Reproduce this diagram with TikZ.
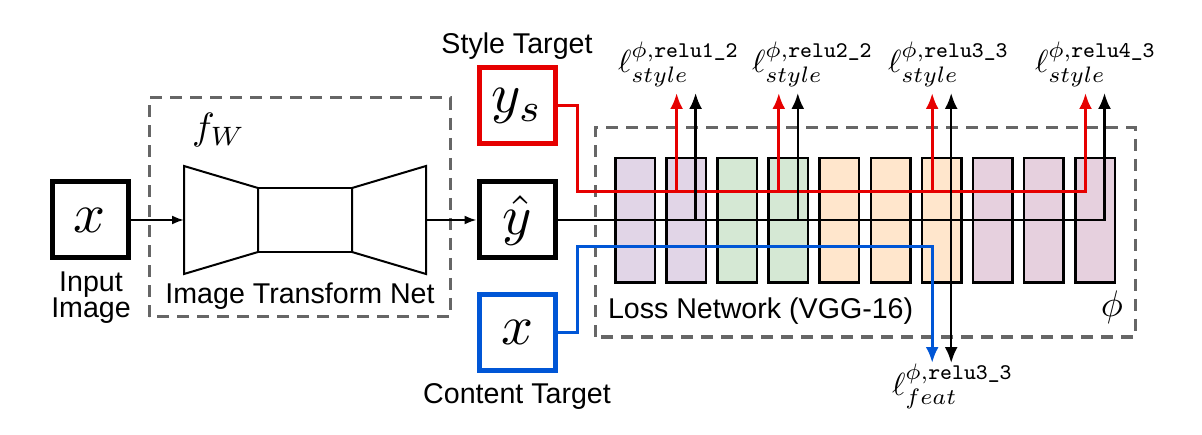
\documentclass[tikz,border=0pt]{standalone}
\usepackage{graphicx}
\usepackage{amsmath}
\usepackage{fontspec}
\setsansfont{Liberation Sans}
\usetikzlibrary{arrows.meta}
\newcommand{\lblfont}{\sffamily\fontsize{28.6}{30}\selectfont}
\newcommand{\mathat}[2]{\scalebox{#1}{$#2$}}
\begin{document}
\begin{tikzpicture}[x=1pt,y=1pt,
  txt/.style={text=black,inner sep=0pt,outer sep=0pt,font=\lblfont},
  losslbl/.style={text=black,inner sep=0pt,outer sep=0pt},
  varbox/.style={draw=#1,line width=5pt,minimum size=76pt,inner sep=0pt,fill=white},
  layer/.style={draw=black,fill=#1,line width=2.5pt,minimum width=39.5pt,minimum height=124.5pt,inner sep=0pt},
  grp/.style={draw=dashColor,line width=3pt,dash pattern=on 12pt off 8pt},
  netln/.style={draw=black,line width=2pt,line join=miter},
  thinarr/.style={draw=black,line width=2pt,-{Latex[length=12pt,width=9pt]}},
  mainln/.style={draw=black,line width=2.5pt,-{Latex[length=16pt,width=13pt]}},
  styleln/.style={draw=redColor,line width=3pt,-{Latex[length=16pt,width=13pt]}},
  contln/.style={draw=blueColor,line width=3pt,-{Latex[length=16pt,width=13pt]}}]
\definecolor{fillColor}{RGB}{255,255,255}
\definecolor{dashColor}{RGB}{102,102,102}
\definecolor{redColor}{RGB}{230,0,0}
\definecolor{blueColor}{RGB}{0,86,214}
\definecolor{vggA}{RGB}{225,213,231}
\definecolor{vggB}{RGB}{213,232,212}
\definecolor{vggC}{RGB}{255,230,204}
\definecolor{vggD}{RGB}{230,208,222}
\path[use as bounding box,fill=fillColor] (0,0) rectangle (1202,434);

% dashed groups
\path[grp] (149,117) rectangle (450,336);
\path[grp] (595, 97) rectangle (1135,306);

% image transform net
\path[netln] (184,268) -- (258,246) -- (258,182) -- (184,160) -- cycle;
\path[netln] (258,182) rectangle (352,246);
\path[netln] (352,246) -- (426,268) -- (426,160) -- (352,182) -- cycle;
\coordinate (tnl) at (184,214);
\coordinate (tnr) at (426,214);
\node[losslbl,anchor=base west] (fw) at (192,294) {\mathat{3.8}{f_W}};
\node[txt,anchor=base] (tnlbl) at (300,130.5) {Image Transform Net};

% loss network layers
\node[layer=vggA] (b1) at ( 635.0,213.5) {};
\node[layer=vggA] (b2) at ( 686.1,213.5) {};
\node[layer=vggB] (b3) at ( 737.2,213.5) {};
\node[layer=vggB] (b4) at ( 788.3,213.5) {};
\node[layer=vggC] (b5) at ( 839.4,213.5) {};
\node[layer=vggC] (b6) at ( 890.5,213.5) {};
\node[layer=vggC] (b7) at ( 941.7,213.5) {};
\node[layer=vggD] (b8) at ( 992.8,213.5) {};
\node[layer=vggD] (b9) at (1043.9,213.5) {};
\node[layer=vggD] (b10) at (1095.0,213.5) {};
\node[txt,anchor=base west] (losslbl) at (608,115) {Loss Network (VGG-16)};
\node[losslbl,anchor=base] (phi) at (1112,118) {\mathat{3.7}{\phi}};

% variable boxes
\node[varbox=black] (inx) at (90,214) {\mathat{5.6}{x}};
\node[varbox=black] (yhat) at (517,214) {\mathat{5.6}{\hat{y}}};
\node[varbox=redColor] (ys) at (517,328) {\mathat{5.6}{y_s}};
\node[varbox=blueColor] (xc) at (517,101.5) {\mathat{5.6}{x}};
\node[txt,anchor=base] (inlbl1) at (91,142) {Input};
\node[txt,anchor=base] (inlbl2) at (91,116) {Image};
\node[txt,anchor=base] (stlbl) at (517,380.5) {Style Target};
\node[txt,anchor=base] (ctlbl) at (517,30.5) {Content Target};

% arrow ends
\coordinate (rbus) at (577,242);
\coordinate (bbus) at (577,187);
\coordinate (r2) at ( 676.6,341);
\coordinate (k2) at ( 695.6,341);
\coordinate (r4) at ( 778.8,341);
\coordinate (k4) at ( 797.8,341);
\coordinate (r7) at ( 932.2,341);
\coordinate (k7) at ( 951.2,341);
\coordinate (r10) at (1085.5,341);
\coordinate (k10) at (1104.5,341);
\coordinate (fr7) at ( 932.2,71);
\coordinate (fk7) at ( 951.2,71);

% connectors
\draw[thinarr] (inx.east) -- (tnl);
\draw[thinarr] (tnr) -- (yhat.west);
\draw[styleln] (ys.east) -| (rbus) -| (r10);
\draw[styleln] (r2 |- rbus) -- (r2);
\draw[styleln] (r4 |- rbus) -- (r4);
\draw[styleln] (r7 |- rbus) -- (r7);
\draw[mainln] (yhat.east) -| (k10);
\draw[mainln] (k2 |- yhat.east) -- (k2);
\draw[mainln] (k4 |- yhat.east) -- (k4);
\draw[mainln] (k7 |- yhat.east) -- (k7);
\draw[mainln] (k7 |- yhat.east) -- (fk7);
\draw[contln] (xc.east) -| (bbus) -| (fr7);

% losses
\node[losslbl,anchor=base west] (l1) at ( 618,361) {\mathat{3.2}{\ell^{\phi,\texttt{relu1\_2}}_{style}}};
\node[losslbl,anchor=base west] (l2) at ( 752,361) {\mathat{3.2}{\ell^{\phi,\texttt{relu2\_2}}_{style}}};
\node[losslbl,anchor=base west] (l3) at ( 888,361) {\mathat{3.2}{\ell^{\phi,\texttt{relu3\_3}}_{style}}};
\node[losslbl,anchor=base west] (l4) at (1035,361) {\mathat{3.2}{\ell^{\phi,\texttt{relu4\_3}}_{style}}};
\node[losslbl,anchor=base west] (lf) at ( 892, 39) {\mathat{3.2}{\ell^{\phi,\texttt{relu3\_3}}_{feat}}};
\end{tikzpicture}
\end{document}
